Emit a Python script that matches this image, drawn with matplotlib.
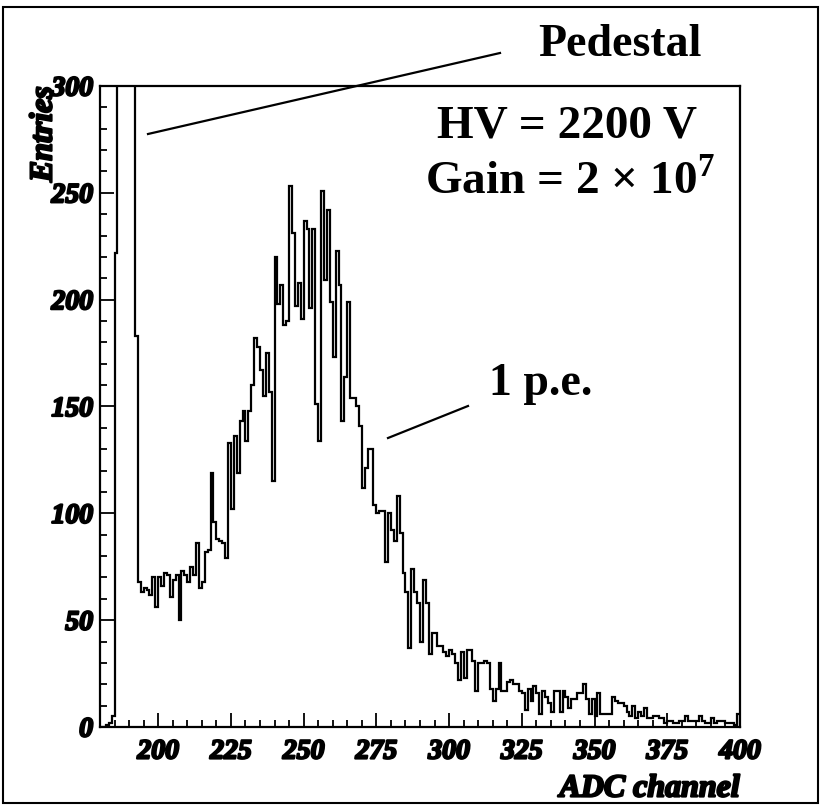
"""ADC spectrum of PMT: pedestal + single photo-electron peak."""
import matplotlib
matplotlib.use("Agg")
import matplotlib.pyplot as plt
import matplotlib.patheffects as pe
from matplotlib.lines import Line2D
from matplotlib.patches import Rectangle
from matplotlib.ticker import MultipleLocator
import numpy as np

plt.rcParams["font.family"] = ["Liberation Serif", "DejaVu Serif"]
plt.rcParams["mathtext.fontset"] = "custom"
plt.rcParams["mathtext.rm"] = "Liberation Serif:bold"
plt.rcParams["mathtext.bf"] = "Liberation Serif:bold"

# histogram: 1 bin per ADC channel, first bin = 180
first_channel = 180
# pedestal bins 186-191 run off the top of the frame (clipped at 300)
pedestal = [0, 0, 1, 2, 5, 222, 1200, 1200, 1200, 1200, 1200, 1200, 183]
counts_193_259 = [68, 63, 65, 64, 62, 70, 56, 70, 66, 72, 71, 61, 69, 71, 50, 73,
                  71, 68, 75, 71, 86, 65, 68, 82, 83, 119, 96, 88, 87, 86, 79, 133,
                  102, 136, 119, 143, 148, 134, 148, 160, 182, 178, 167, 155, 175,
                  157, 115, 220, 198, 207, 188, 190, 253, 231, 197, 208, 191, 237,
                  233, 196, 233, 151, 134, 251, 209, 242, 199]
counts_260_329 = [173, 223, 207, 143, 164, 199, 154, 154, 150, 141, 112, 121, 130,
                  130, 104, 100, 101, 101, 77, 100, 92, 87, 108, 91, 72, 63, 37, 74,
                  63, 58, 40, 69, 58, 34, 44, 44, 38, 38, 35, 33, 36, 34, 30, 22, 35,
                  23, 36, 36, 31, 17, 30, 30, 31, 30, 18, 12, 18, 30, 17, 17, 21, 22,
                  20, 20, 17, 16, 8, 18, 12, 19]
counts_330_399 = [16, 6, 17, 14, 11, 7, 17, 17, 7, 17, 14, 9, 13, 13, 16, 16, 20,
                  13, 6, 13, 5, 16, 6, 6, 6, 6, 14, 12, 11, 11, 10, 7, 5, 10, 4, 7,
                  5, 9, 4, 4, 5, 5, 4, 4, 2, 3, 3, 2, 2, 3, 3, 5, 3, 3, 3, 3, 5, 3,
                  2, 2, 4, 2, 3, 3, 3, 2, 2, 2, 1, 6]

x_ticks = [200, 225, 250, 275, 300, 325, 350, 375, 400]
y_ticks = [0, 50, 100, 150, 200, 250, 300]


def main() -> None:
    counts = np.array(pedestal + counts_193_259 + counts_260_329 + counts_330_399)
    edges = np.arange(first_channel, first_channel + len(counts) + 1)

    fig = plt.figure(figsize=(8.22, 8.05), dpi=100)
    W, H = 822.0, 805.0
    ax = fig.add_axes([100 / W, 1 - 727 / H, 640 / W, 641 / H])

    ax.stairs(counts, edges, color="black", lw=1.6, baseline=0)
    ax.set_xlim(180, 400)
    ax.set_ylim(0, 300)

    for s in ax.spines.values():
        s.set_linewidth(1.6)

    ax.set_xticks(x_ticks)
    ax.set_yticks(y_ticks)
    ax.xaxis.set_minor_locator(MultipleLocator(5))
    ax.yaxis.set_minor_locator(MultipleLocator(10))
    ax.tick_params(which="both", direction="in", width=1.3, top=False, right=False)
    ax.tick_params(which="major", length=10)
    ax.tick_params(which="minor", length=5)
    ax.tick_params(axis="x", which="major", pad=9)
    ax.tick_params(axis="y", which="major", pad=5)

    heavy = [pe.withStroke(linewidth=1.6, foreground="black")]
    for lab in ax.get_xticklabels() + ax.get_yticklabels():
        lab.set_fontsize(20)
        lab.set_fontweight("bold")
        lab.set_fontstyle("italic")
        lab.set_path_effects(heavy)

    # axis titles, ROOT style: at the ends of the axes
    fig.text(44 / W, 1 - 86 / H, "Entries", rotation=90, ha="center", va="top",
             fontsize=23, fontweight="bold", fontstyle="italic", path_effects=heavy)
    fig.text(740 / W, 1 - 789 / H, "ADC channel", ha="right", va="center",
             fontsize=23, fontweight="bold", fontstyle="italic", path_effects=heavy)

    # annotations
    fig.text(620 / W, 1 - 45 / H, "Pedestal", ha="center", va="center",
             fontsize=33, fontweight="bold")
    fig.text(567 / W, 1 - 127 / H, "HV = 2200 V", ha="center", va="center",
             fontsize=34, fontweight="bold")
    fig.text(570 / W, 1 - 182 / H, r"Gain = 2 × 10$^{\mathrm{7}}$", ha="center",
             va="center", fontsize=34, fontweight="bold")
    fig.text(541 / W, 1 - 384 / H, "1 p.e.", ha="center", va="center",
             fontsize=33, fontweight="bold")

    fig.add_artist(Line2D([148 / W, 500 / W], [1 - 134 / H, 1 - 53 / H],
                          color="black", lw=1.6))
    fig.add_artist(Line2D([388 / W, 468 / W], [1 - 438 / H, 1 - 406 / H],
                          color="black", lw=1.6))

    # outer canvas border
    fig.add_artist(Rectangle((3 / W, 2 / H), 815 / W, 796 / H, fill=False,
                             ec="black", lw=1.5, transform=fig.transFigure))

    fig.savefig("out.png", dpi=100)
    plt.close(fig)


if __name__ == "__main__":
    main()
